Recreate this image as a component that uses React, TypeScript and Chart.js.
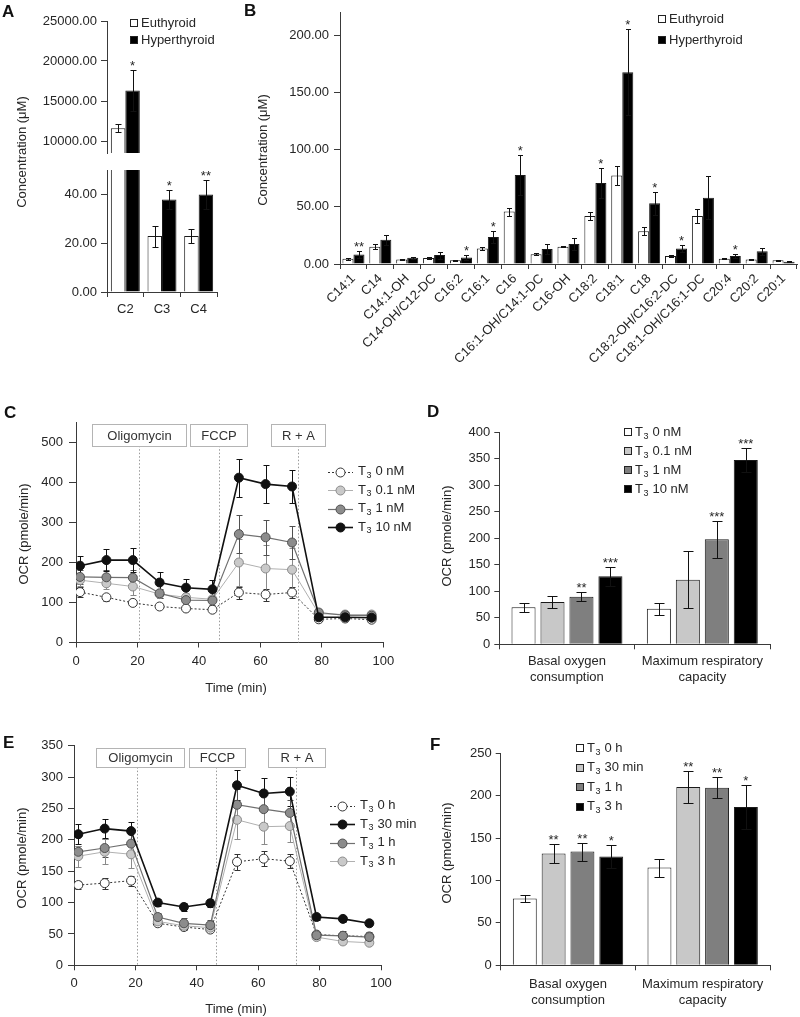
import React, { useEffect, useRef } from 'react';
import { Chart, registerables } from 'chart.js';

Chart.register(...registerables);

const FONT = '"Liberation Sans", Arial, Helvetica, sans-serif';
const TEXT = '#262626';
const AXIS = '#3a3a3a';
const PAGE_W = 800;
const PAGE_H = 1017;

// ---------------- Panel A ----------------
const aCategories = ['C2', 'C3', 'C4'];
const abSeries = ['Euthyroid', 'Hyperthyroid'];
const aEuthyroid = [11600, 22.9, 23.0];
const aEuthyroidErr = [500, 4.3, 3.0];
const aHyperthyroid = [16300, 37.9, 40.0];
const aHyperthyroidErr = [2600, 3.8, 5.8];
const aHyperStars = ['*', '*', '**'];
const aUpperTicks = [10000, 15000, 20000, 25000];
const aLowerTicks = [0, 20, 40];

// ---------------- Panel B ----------------
const bCategories = [
  'C14:1', 'C14', 'C14:1-OH', 'C14-OH/C12-DC', 'C16:2', 'C16:1', 'C16',
  'C16:1-OH/C14:1-DC', 'C16-OH', 'C18:2', 'C18:1', 'C18', 'C18:2-OH/C16:2-DC',
  'C18:1-OH/C16:1-DC', 'C20:4', 'C20:2', 'C20:1',
];
const bEuthyroid = [4.6, 15.2, 4.0, 5.3, 3.2, 13.5, 45.9, 8.6, 15.2, 42.0, 77.6, 28.7, 6.9, 42.0, 4.6, 4.0, 3.2];
const bEuthyroidErr = [0.8, 2.0, 0.6, 0.7, 0.5, 1.2, 3.5, 1.0, 0.7, 3.4, 8.0, 3.4, 0.7, 6.0, 0.5, 0.5, 0.3];
const bHyperthyroid = [8.3, 21.3, 5.4, 7.8, 5.7, 23.6, 77.9, 13.2, 17.5, 71.0, 168.0, 53.2, 13.5, 58.0, 6.9, 11.2, 2.0];
const bHyperthyroidErr = [2.7, 4.5, 1.0, 3.0, 2.3, 5.0, 17.5, 4.6, 5.5, 13.0, 37.5, 10.0, 3.0, 18.7, 1.5, 3.2, 0.3];
const bHyperStars = ['**', '', '', '', '*', '*', '*', '', '', '*', '*', '*', '*', '', '*', '', ''];
const bYTicks = [0, 50, 100, 150, 200];

// ---------------- Panel C ----------------
const cTimes = [1.3, 9.9, 18.5, 27.2, 35.8, 44.4, 53.0, 61.7, 70.3, 79.0, 87.6, 96.2];
const cSeries = ['T3 0 nM', 'T3 0.1 nM', 'T3 1 nM', 'T3 10 nM'];
const c0nM = [126, 113, 99, 90, 85, 82, 125, 120, 125, 58, 60, 57];
const c0nMErr = [12, 8, 6, 4, 3, 3, 15, 15, 14, 4, 4, 4];
const c01nM = [156, 148, 140, 121, 113, 108, 200, 185, 182, 72, 70, 70];
const c01nMErr = [15, 15, 20, 10, 10, 8, 58, 60, 55, 5, 5, 5];
const c1nM = [164, 163, 162, 123, 106, 105, 271, 263, 250, 75, 68, 67];
const c1nMErr = [18, 18, 20, 12, 12, 10, 48, 43, 42, 5, 5, 5];
const c10nM = [192, 206, 206, 150, 137, 133, 412, 396, 390, 63, 63, 62];
const c10nMErr = [24, 27, 30, 26, 23, 23, 48, 47, 42, 4, 4, 4];
const cYTicks = [0, 100, 200, 300, 400, 500];
const timeTicks = [0, 20, 40, 60, 80, 100];
const injectionNames = ['Oligomycin', 'FCCP', 'R + A'];
const injectionTimes = [20.6, 46.4, 72.4];

// ---------------- Panel D ----------------
const barGroups = [['Basal oxygen', 'consumption'], ['Maximum respiratory', 'capacity']];
const dSeries = ['T3 0 nM', 'T3 0.1 nM', 'T3 1 nM', 'T3 10 nM'];
const d0nM = [69.8, 67.2];
const d0nMErr = [9, 11];
const d01nM = [79.8, 121.9];
const d01nMErr = [12, 54];
const d1nM = [89.8, 198.0];
const d1nMErr = [8, 35];
const d1nMStars = ['**', '***'];
const d10nM = [128.3, 347.7];
const d10nMErr = [18, 22];
const d10nMStars = ['***', '***'];
const dYTicks = [0, 50, 100, 150, 200, 250, 300, 350, 400];

// ---------------- Panel E ----------------
const eTimes = [1.4, 10.0, 18.6, 27.3, 35.8, 44.4, 53.1, 61.8, 70.3, 79.0, 87.6, 96.2];
const eSeries = ['T3 0 h', 'T3 30 min', 'T3 1 h', 'T3 3 h'];
const e0h = [128, 131, 135, 67, 61, 57, 165, 170, 166, 49, 47, 46];
const e0hErr = [7, 9, 8, 4, 5, 4, 13, 12, 11, 4, 5, 5];
const e30min = [209, 218, 214, 100, 93, 99, 287, 274, 277, 77, 74, 67];
const e30minErr = [16, 15, 15, 6, 7, 6, 24, 25, 23, 4, 5, 5];
const e1h = [181, 187, 194, 77, 67, 64, 256, 249, 243, 48, 47, 45];
const e1hErr = [10, 15, 20, 6, 8, 8, 25, 22, 20, 5, 8, 8];
const e3h = [174, 181, 177, 70, 63, 60, 232, 221, 222, 45, 38, 36];
const e3hErr = [17, 20, 22, 5, 7, 5, 30, 27, 25, 4, 4, 4];
const eYTicks = [0, 50, 100, 150, 200, 250, 300, 350];

// ---------------- Panel F ----------------
const fSeries = ['T3 0 h', 'T3 30 min', 'T3 1 h', 'T3 3 h'];
const f0h = [78.8, 115.3];
const f0hErr = [4.5, 10.6];
const f30min = [131.8, 210.2];
const f30minErr = [11, 18.5];
const f30minStars = ['**', '**'];
const f1h = [134.1, 209.4];
const f1hErr = [10.6, 12.5];
const f1hStars = ['**', '**'];
const f3h = [128.2, 186.6];
const f3hErr = [14, 25.5];
const f3hStars = ['*', '*'];
const fYTicks = [0, 50, 100, 150, 200, 250];

// ---------------- helpers / plugins ----------------
const fmt2 = (v: any) => Number(v).toFixed(2);
const fmt0 = (v: any) => String(Math.round(Number(v)));

function drawLabel(ctx: CanvasRenderingContext2D, label: string, x: number, y: number, size: number) {
  ctx.fillStyle = TEXT;
  ctx.textAlign = 'left';
  ctx.textBaseline = 'middle';
  ctx.font = `${size}px ${FONT}`;
  const m = /^T3 (.*)$/.exec(label);
  if (!m) {
    ctx.fillText(label, x, y);
    return;
  }
  ctx.fillText('T', x, y);
  let cx = x + ctx.measureText('T').width + 0.5;
  ctx.font = `${Math.round(size * 0.72)}px ${FONT}`;
  ctx.fillText('3', cx, y + 4);
  cx += ctx.measureText('3').width + 4;
  ctx.font = `${size}px ${FONT}`;
  ctx.fillText(m[1], cx, y);
}

function drawErrors(chart: any, opts: any) {
  const ctx = chart.ctx;
  const area = chart.chartArea;
  ctx.save();
  if (opts.clip) {
    ctx.beginPath();
    ctx.rect(area.left, area.top, area.right - area.left, area.bottom - area.top);
    ctx.clip();
  }
  chart.data.datasets.forEach((ds: any, i: number) => {
    const errs = ds.errorBars;
    if (!errs) return;
    const meta = chart.getDatasetMeta(i);
    const ys = chart.scales[meta.yAxisID];
    meta.data.forEach((el: any, j: number) => {
      const raw = ds.data[j];
      const v = typeof raw === 'number' ? raw : raw.y;
      const e = errs[j];
      if (e == null) return;
      const x = Math.round(el.x) + 0.5;
      const yt = Math.round(ys.getPixelForValue(v + e)) + 0.5;
      const yb = Math.round(ys.getPixelForValue(v - e)) + 0.5;
      const c = (opts.cap || 6) / 2;
      ctx.strokeStyle = ds.errorColor || '#000';
      ctx.lineWidth = 1;
      ctx.beginPath();
      ctx.moveTo(x, yt);
      ctx.lineTo(x, yb);
      ctx.moveTo(x - c, yt);
      ctx.lineTo(x + c, yt);
      ctx.moveTo(x - c, yb);
      ctx.lineTo(x + c, yb);
      ctx.stroke();
      const s = ds.stars && ds.stars[j];
      if (s) {
        ctx.fillStyle = TEXT;
        ctx.font = `${opts.starSize || 13}px ${FONT}`;
        ctx.textAlign = 'center';
        ctx.textBaseline = 'alphabetic';
        ctx.fillText(s, el.x, yt - 1);
      }
    });
  });
  ctx.restore();
}

const errorBarPlugin = {
  id: 'errorBars',
  beforeDatasetsDraw(chart: any, _a: any, opts: any) {
    if (opts && opts.behind) drawErrors(chart, opts);
  },
  afterDatasetsDraw(chart: any, _a: any, opts: any) {
    if (opts && !opts.behind) drawErrors(chart, opts);
  },
};

const textPlugin = {
  id: 'pageTexts',
  afterDraw(chart: any, _a: any, opts: any) {
    const items = opts && opts.items;
    if (!items) return;
    const ctx = chart.ctx;
    for (const it of items) {
      ctx.save();
      ctx.font = it.font || `13px ${FONT}`;
      ctx.fillStyle = it.color || TEXT;
      ctx.textAlign = it.align || 'center';
      ctx.textBaseline = it.baseline || 'middle';
      ctx.translate(it.x, it.y);
      if (it.rotate) ctx.rotate(it.rotate);
      ctx.fillText(it.text, 0, 0);
      ctx.restore();
    }
  },
};

const keyPlugin = {
  id: 'keyBox',
  afterDraw(chart: any, _a: any, opts: any) {
    const items = opts && opts.items;
    if (!items) return;
    const ctx = chart.ctx;
    for (const it of items) {
      const ds = chart.data.datasets[it.ds];
      ctx.save();
      let tx = 0;
      const y = it.y;
      if (opts.kind === 'line') {
        const len = opts.lineLen || 25;
        ctx.strokeStyle = ds.borderColor;
        ctx.lineWidth = ds.borderWidth;
        ctx.setLineDash(ds.borderDash || []);
        ctx.beginPath();
        ctx.moveTo(it.x, Math.round(y) + 0.5);
        ctx.lineTo(it.x + len, Math.round(y) + 0.5);
        ctx.stroke();
        ctx.setLineDash([]);
        ctx.beginPath();
        ctx.arc(it.x + len / 2, Math.round(y) + 0.5, ds.pointRadius, 0, Math.PI * 2);
        ctx.fillStyle = ds.pointBackgroundColor;
        ctx.fill();
        ctx.lineWidth = 1;
        ctx.strokeStyle = ds.pointBorderColor;
        ctx.stroke();
        tx = it.x + len + 5;
      } else {
        const s = opts.box || 8;
        const top = Math.round(y - s / 2);
        ctx.fillStyle = ds.backgroundColor;
        ctx.fillRect(it.x, top, s, s);
        ctx.strokeStyle = '#222';
        ctx.lineWidth = 1;
        ctx.strokeRect(it.x + 0.5, top + 0.5, s - 1, s - 1);
        tx = it.x + s + 3;
      }
      drawLabel(ctx, ds.label, tx, y, opts.fontSize || 13);
      ctx.restore();
    }
  },
};

const injectionPlugin = {
  id: 'injections',
  beforeDatasetsDraw(chart: any, _a: any, opts: any) {
    const boxes = opts && opts.boxes;
    if (!boxes) return;
    const ctx = chart.ctx;
    const area = chart.chartArea;
    const xs = chart.scales.x;
    const ys = chart.scales.y;
    ctx.save();
    ctx.strokeStyle = '#9a9a9a';
    ctx.lineWidth = 1;
    ctx.setLineDash([1.5, 2]);
    boxes.forEach((b: any, i: number) => {
      const x = Math.round(xs.getPixelForValue(injectionTimes[i])) + 0.5;
      ctx.beginPath();
      ctx.moveTo(x, ys.getPixelForValue(b.y0));
      ctx.lineTo(x, area.bottom);
      ctx.stroke();
    });
    ctx.setLineDash([]);
    boxes.forEach((b: any, i: number) => {
      const x0 = Math.round(xs.getPixelForValue(b.x0)) + 0.5;
      const x1 = Math.round(xs.getPixelForValue(b.x1)) + 0.5;
      const yT = Math.round(ys.getPixelForValue(b.y1)) + 0.5;
      const yB = Math.round(ys.getPixelForValue(b.y0)) + 0.5;
      ctx.fillStyle = '#fff';
      ctx.fillRect(x0, yT, x1 - x0, yB - yT);
      ctx.strokeStyle = '#b4b4b4';
      ctx.strokeRect(x0, yT, x1 - x0, yB - yT);
      ctx.fillStyle = '#333';
      ctx.font = `13px ${FONT}`;
      ctx.textAlign = 'center';
      ctx.textBaseline = 'middle';
      ctx.fillText(injectionNames[i], (x0 + x1) / 2, (yT + yB) / 2 + 0.5);
    });
    ctx.restore();
  },
};

const PLUGINS = [injectionPlugin, errorBarPlugin, textPlugin, keyPlugin];

function yLinear(min: number, max: number, ticks: number[], width: number, fmt: any, tickLen: number, pad: number, display = true) {
  return {
    type: 'linear',
    position: 'left',
    display,
    min,
    max,
    afterBuildTicks: (s: any) => {
      s.ticks = ticks.map((v) => ({ value: v }));
    },
    afterFit: (s: any) => {
      s.width = width;
    },
    grid: { display: true, drawOnChartArea: false, drawTicks: true, tickLength: tickLen, color: AXIS },
    border: { display: true, color: AXIS, width: 1 },
    ticks: { padding: pad, color: TEXT, font: { family: FONT, size: 13 }, callback: (v: any) => fmt(v) },
  };
}

function xCategory(height: number, pad: number, rotation = 0, display = true) {
  return {
    type: 'category',
    position: 'bottom',
    display,
    offset: true,
    afterFit: (s: any) => {
      s.height = height;
    },
    grid: { display: true, drawOnChartArea: false, offset: true, tickLength: 5, color: AXIS },
    border: { display: true, color: AXIS, width: 1 },
    ticks: {
      color: TEXT,
      font: { family: FONT, size: 13, lineHeight: 1.22 },
      padding: pad,
      autoSkip: false,
      maxRotation: rotation,
      minRotation: rotation,
    },
  };
}

function xTime(height: number, pad: number) {
  return {
    type: 'linear',
    position: 'bottom',
    min: 0,
    max: 100,
    afterBuildTicks: (s: any) => {
      s.ticks = timeTicks.map((v) => ({ value: v }));
    },
    afterFit: (s: any) => {
      s.height = height;
    },
    grid: { display: true, drawOnChartArea: false, drawTicks: true, tickLength: 5, color: AXIS },
    border: { display: true, color: AXIS, width: 1 },
    ticks: { color: TEXT, font: { family: FONT, size: 13 }, padding: pad, callback: (v: any) => fmt0(v) },
  };
}

function layoutPadding(l: number, t: number, r: number, b: number, yW: number, xH: number) {
  return { left: l - yW, top: t, right: PAGE_W - r, bottom: PAGE_H - b - xH };
}

function baseOptions(padding: any, scales: any, plugins: any) {
  return {
    responsive: false,
    maintainAspectRatio: false,
    animation: false,
    events: [],
    layout: { padding },
    scales,
    plugins: Object.assign({ legend: { display: false }, tooltip: { enabled: false }, title: { display: false } }, plugins),
  };
}

function barDataset(label: string, data: number[], errs: number[], bg: string, stars: string[] | null, extra: any = {}) {
  return Object.assign(
    {
      label,
      data,
      errorBars: errs,
      errorColor: '#111',
      stars,
      backgroundColor: bg,
      borderColor: '#1a1a1a',
      borderWidth: 1,
    },
    extra,
  );
}

function lineDataset(label: string, times: number[], vals: number[], errs: number[], st: any) {
  return {
    label,
    data: times.map((t, i) => ({ x: t, y: vals[i] })),
    errorBars: errs,
    errorColor: st.err,
    borderColor: st.line,
    borderWidth: st.lw,
    borderDash: st.dash || [],
    pointRadius: 4.5,
    pointBorderWidth: 1,
    pointBackgroundColor: st.fill,
    pointBorderColor: st.stroke,
    tension: 0,
    fill: false,
    order: st.order,
  };
}

const STYLE_WHITE = { line: '#333', lw: 1, dash: [2, 2], fill: '#fff', stroke: '#333', err: '#333', order: 3 };
const STYLE_LIGHT = { line: '#b0b0b0', lw: 1, fill: '#c9c9c9', stroke: '#8a8a8a', err: '#8a8a8a', order: 2 };
const STYLE_DARK = { line: '#707070', lw: 1.2, fill: '#8c8c8c', stroke: '#505050', err: '#505050', order: 1 };
const STYLE_BLACK = { line: '#111', lw: 1.6, fill: '#111', stroke: '#111', err: '#111', order: 0 };

const BAR_COLORS = ['#ffffff', '#c8c8c8', '#7f7f7f', '#000000'];
const ROT = -Math.PI / 2;
const LETTER = `bold 17px ${FONT}`;

function buildConfigs(): any[] {
  const configs: any[] = [];

  // ---- A upper ----
  const aL = 107, aR = 217;
  configs.push({
    type: 'bar',
    data: {
      labels: aCategories,
      datasets: [
        barDataset(abSeries[0], aEuthyroid, aEuthyroidErr, '#fff', null, { clip: 0, categoryPercentage: 0.79, barPercentage: 1 }),
        barDataset(abSeries[1], aHyperthyroid, aHyperthyroidErr, '#000', aHyperStars, { clip: 0, categoryPercentage: 0.79, barPercentage: 1 }),
      ],
    },
    options: baseOptions(
      layoutPadding(aL, 21, aR, 153, 100, 0),
      { x: xCategory(0, 4, 0, false), y: yLinear(8500, 25000, aUpperTicks, 100, fmt2, 6, 4) },
      {
        errorBars: { cap: 6, clip: true },
        keyBox: { kind: 'box', box: 8, items: [{ ds: 0, x: 130, y: 23 }, { ds: 1, x: 130, y: 40 }] },
        pageTexts: { items: [{ text: 'A', x: 2, y: 16.5, font: LETTER, align: 'left', baseline: 'alphabetic', color: '#111' }] },
      },
    ),
  });

  // ---- A lower ----
  configs.push({
    type: 'bar',
    data: {
      labels: aCategories,
      datasets: [
        barDataset(abSeries[0], aEuthyroid, aEuthyroidErr, '#fff', null, { clip: 0, categoryPercentage: 0.79, barPercentage: 1 }),
        barDataset(abSeries[1], aHyperthyroid, aHyperthyroidErr, '#000', aHyperStars, { clip: 0, categoryPercentage: 0.79, barPercentage: 1 }),
      ],
    },
    options: baseOptions(
      layoutPadding(aL, 170, aR, 292, 100, 40),
      { x: xCategory(40, 4), y: yLinear(0, 50, aLowerTicks, 100, fmt2, 6, 4) },
      {
        errorBars: { cap: 6, clip: true },
        pageTexts: { items: [{ text: 'Concentration (\u03bcM)', x: 22, y: 152, rotate: ROT }] },
      },
    ),
  });

  // ---- B ----
  configs.push({
    type: 'bar',
    data: {
      labels: bCategories,
      datasets: [
        barDataset(abSeries[0], bEuthyroid, bEuthyroidErr, '#fff', null, { categoryPercentage: 0.82, barPercentage: 1 }),
        barDataset(abSeries[1], bHyperthyroid, bHyperthyroidErr, '#000', bHyperStars, { categoryPercentage: 0.82, barPercentage: 1 }),
      ],
    },
    options: baseOptions(
      layoutPadding(340, 9, 797, 264, 100, 130),
      { x: xCategory(130, 2, 45), y: yLinear(0, 220, bYTicks, 100, fmt2, 6, 5) },
      {
        errorBars: { cap: 5 },
        keyBox: { kind: 'box', box: 8, items: [{ ds: 0, x: 658, y: 19 }, { ds: 1, x: 658, y: 40 }] },
        pageTexts: {
          items: [
            { text: 'B', x: 244, y: 16, font: LETTER, align: 'left', baseline: 'alphabetic', color: '#111' },
            { text: 'Concentration (\u03bcM)', x: 263, y: 150, rotate: ROT },
          ],
        },
      },
    ),
  });

  // ---- C ----
  configs.push({
    type: 'line',
    data: {
      datasets: [
        lineDataset(cSeries[0], cTimes, c0nM, c0nMErr, STYLE_WHITE),
        lineDataset(cSeries[1], cTimes, c01nM, c01nMErr, STYLE_LIGHT),
        lineDataset(cSeries[2], cTimes, c1nM, c1nMErr, STYLE_DARK),
        lineDataset(cSeries[3], cTimes, c10nM, c10nMErr, STYLE_BLACK),
      ],
    },
    options: baseOptions(
      layoutPadding(76, 422.5, 383.3, 642.5, 76, 30),
      { x: xTime(30, 6), y: yLinear(0, 550, cYTicks, 76, fmt0, 7, 6) },
      {
        errorBars: { cap: 6, behind: true },
        injections: {
          boxes: [
            { x0: 5.2, x1: 35.8, y0: 492, y1: 546 },
            { x0: 37.1, x1: 55.6, y0: 492, y1: 546 },
            { x0: 63.4, x1: 81.1, y0: 492, y1: 546 },
          ],
        },
        keyBox: {
          kind: 'line',
          lineLen: 25,
          items: [
            { ds: 0, x: 328, y: 471.5 },
            { ds: 1, x: 328, y: 490 },
            { ds: 2, x: 328, y: 508.5 },
            { ds: 3, x: 328, y: 527 },
          ],
        },
        pageTexts: {
          items: [
            { text: 'C', x: 4, y: 417.5, font: LETTER, align: 'left', baseline: 'alphabetic', color: '#111' },
            { text: 'OCR (pmole/min)', x: 24, y: 534, rotate: ROT },
            { text: 'Time (min)', x: 236, y: 688 },
          ],
        },
      },
    ),
  });

  // ---- D ----
  configs.push({
    type: 'bar',
    data: {
      labels: barGroups,
      datasets: [
        barDataset(dSeries[0], d0nM, d0nMErr, BAR_COLORS[0], null, { categoryPercentage: 0.856, barPercentage: 0.83 }),
        barDataset(dSeries[1], d01nM, d01nMErr, BAR_COLORS[1], null, { categoryPercentage: 0.856, barPercentage: 0.83 }),
        barDataset(dSeries[2], d1nM, d1nMErr, BAR_COLORS[2], d1nMStars, { categoryPercentage: 0.856, barPercentage: 0.83 }),
        barDataset(dSeries[3], d10nM, d10nMErr, BAR_COLORS[3], d10nMStars, { categoryPercentage: 0.856, barPercentage: 0.83 }),
      ],
    },
    options: baseOptions(
      layoutPadding(499.3, 432.3, 770, 644.3, 100, 60),
      { x: xCategory(60, 4), y: yLinear(0, 400, dYTicks, 100, fmt0, 5, 4) },
      {
        errorBars: { cap: 10 },
        keyBox: {
          kind: 'box',
          box: 8,
          items: [
            { ds: 0, x: 624, y: 432.3 },
            { ds: 1, x: 624, y: 451.3 },
            { ds: 2, x: 624, y: 470.3 },
            { ds: 3, x: 624, y: 489.3 },
          ],
        },
        pageTexts: {
          items: [
            { text: 'D', x: 427, y: 417, font: LETTER, align: 'left', baseline: 'alphabetic', color: '#111' },
            { text: 'OCR (pmole/min)', x: 447, y: 536, rotate: ROT },
          ],
        },
      },
    ),
  });

  // ---- E ----
  configs.push({
    type: 'line',
    data: {
      datasets: [
        lineDataset(eSeries[0], eTimes, e0h, e0hErr, STYLE_WHITE),
        lineDataset(eSeries[1], eTimes, e30min, e30minErr, STYLE_BLACK),
        lineDataset(eSeries[2], eTimes, e1h, e1hErr, STYLE_DARK),
        lineDataset(eSeries[3], eTimes, e3h, e3hErr, STYLE_LIGHT),
      ],
    },
    options: baseOptions(
      layoutPadding(74, 745.8, 381, 965.3, 74, 40),
      { x: xTime(40, 5), y: yLinear(0, 350, eYTicks, 74, fmt0, 6, 5) },
      {
        errorBars: { cap: 6, behind: true },
        injections: {
          boxes: [
            { x0: 7.1, x1: 35.9, y0: 316, y1: 347 },
            { x0: 37.6, x1: 55.7, y0: 316, y1: 347 },
            { x0: 63.3, x1: 81.8, y0: 316, y1: 347 },
          ],
        },
        keyBox: {
          kind: 'line',
          lineLen: 25,
          items: [
            { ds: 0, x: 330, y: 805.7 },
            { ds: 1, x: 330, y: 824 },
            { ds: 2, x: 330, y: 842.5 },
            { ds: 3, x: 330, y: 861 },
          ],
        },
        pageTexts: {
          items: [
            { text: 'E', x: 3, y: 748, font: LETTER, align: 'left', baseline: 'alphabetic', color: '#111' },
            { text: 'OCR (pmole/min)', x: 22, y: 858, rotate: ROT },
            { text: 'Time (min)', x: 236, y: 1009 },
          ],
        },
      },
    ),
  });

  // ---- F ----
  configs.push({
    type: 'bar',
    data: {
      labels: barGroups,
      datasets: [
        barDataset(fSeries[0], f0h, f0hErr, BAR_COLORS[0], null, { categoryPercentage: 0.856, barPercentage: 0.83 }),
        barDataset(fSeries[1], f30min, f30minErr, BAR_COLORS[1], f30minStars, { categoryPercentage: 0.856, barPercentage: 0.83 }),
        barDataset(fSeries[2], f1h, f1hErr, BAR_COLORS[2], f1hStars, { categoryPercentage: 0.856, barPercentage: 0.83 }),
        barDataset(fSeries[3], f3h, f3hErr, BAR_COLORS[3], f3hStars, { categoryPercentage: 0.856, barPercentage: 0.83 }),
      ],
    },
    options: baseOptions(
      layoutPadding(500.7, 753.3, 770, 965.3, 100, 51),
      { x: xCategory(51, 6), y: yLinear(0, 250, fYTicks, 100, fmt0, 5, 4) },
      {
        errorBars: { cap: 10 },
        keyBox: {
          kind: 'box',
          box: 8,
          items: [
            { ds: 0, x: 576, y: 748.3 },
            { ds: 1, x: 576, y: 767.7 },
            { ds: 2, x: 576, y: 787.3 },
            { ds: 3, x: 576, y: 806.7 },
          ],
        },
        pageTexts: {
          items: [
            { text: 'F', x: 430, y: 750, font: LETTER, align: 'left', baseline: 'alphabetic', color: '#111' },
            { text: 'OCR (pmole/min)', x: 447, y: 853, rotate: ROT },
          ],
        },
      },
    ),
  });

  return configs.map((c) => Object.assign(c, { plugins: PLUGINS }));
}

export default function App() {
  const refs = useRef<(HTMLCanvasElement | null)[]>([]);
  const count = 7;

  useEffect(() => {
    Chart.defaults.font.family = FONT;
    Chart.defaults.color = TEXT;
    const configs = buildConfigs();
    const charts = configs.map((cfg, i) => new Chart(refs.current[i] as HTMLCanvasElement, cfg));
    return () => {
      charts.forEach((c) => c.destroy());
    };
  }, []);

  return (
    <div
      style={{
        position: 'absolute',
        left: 0,
        top: 0,
        width: PAGE_W,
        height: PAGE_H,
        background: '#fff',
        overflow: 'hidden',
      }}
    >
      {Array.from({ length: count }).map((_, i) => (
        <canvas
          key={i}
          ref={(el) => {
            refs.current[i] = el;
          }}
          width={PAGE_W}
          height={PAGE_H}
          style={{ position: 'absolute', left: 0, top: 0, width: PAGE_W, height: PAGE_H, pointerEvents: 'none' }}
        />
      ))}
    </div>
  );
}
